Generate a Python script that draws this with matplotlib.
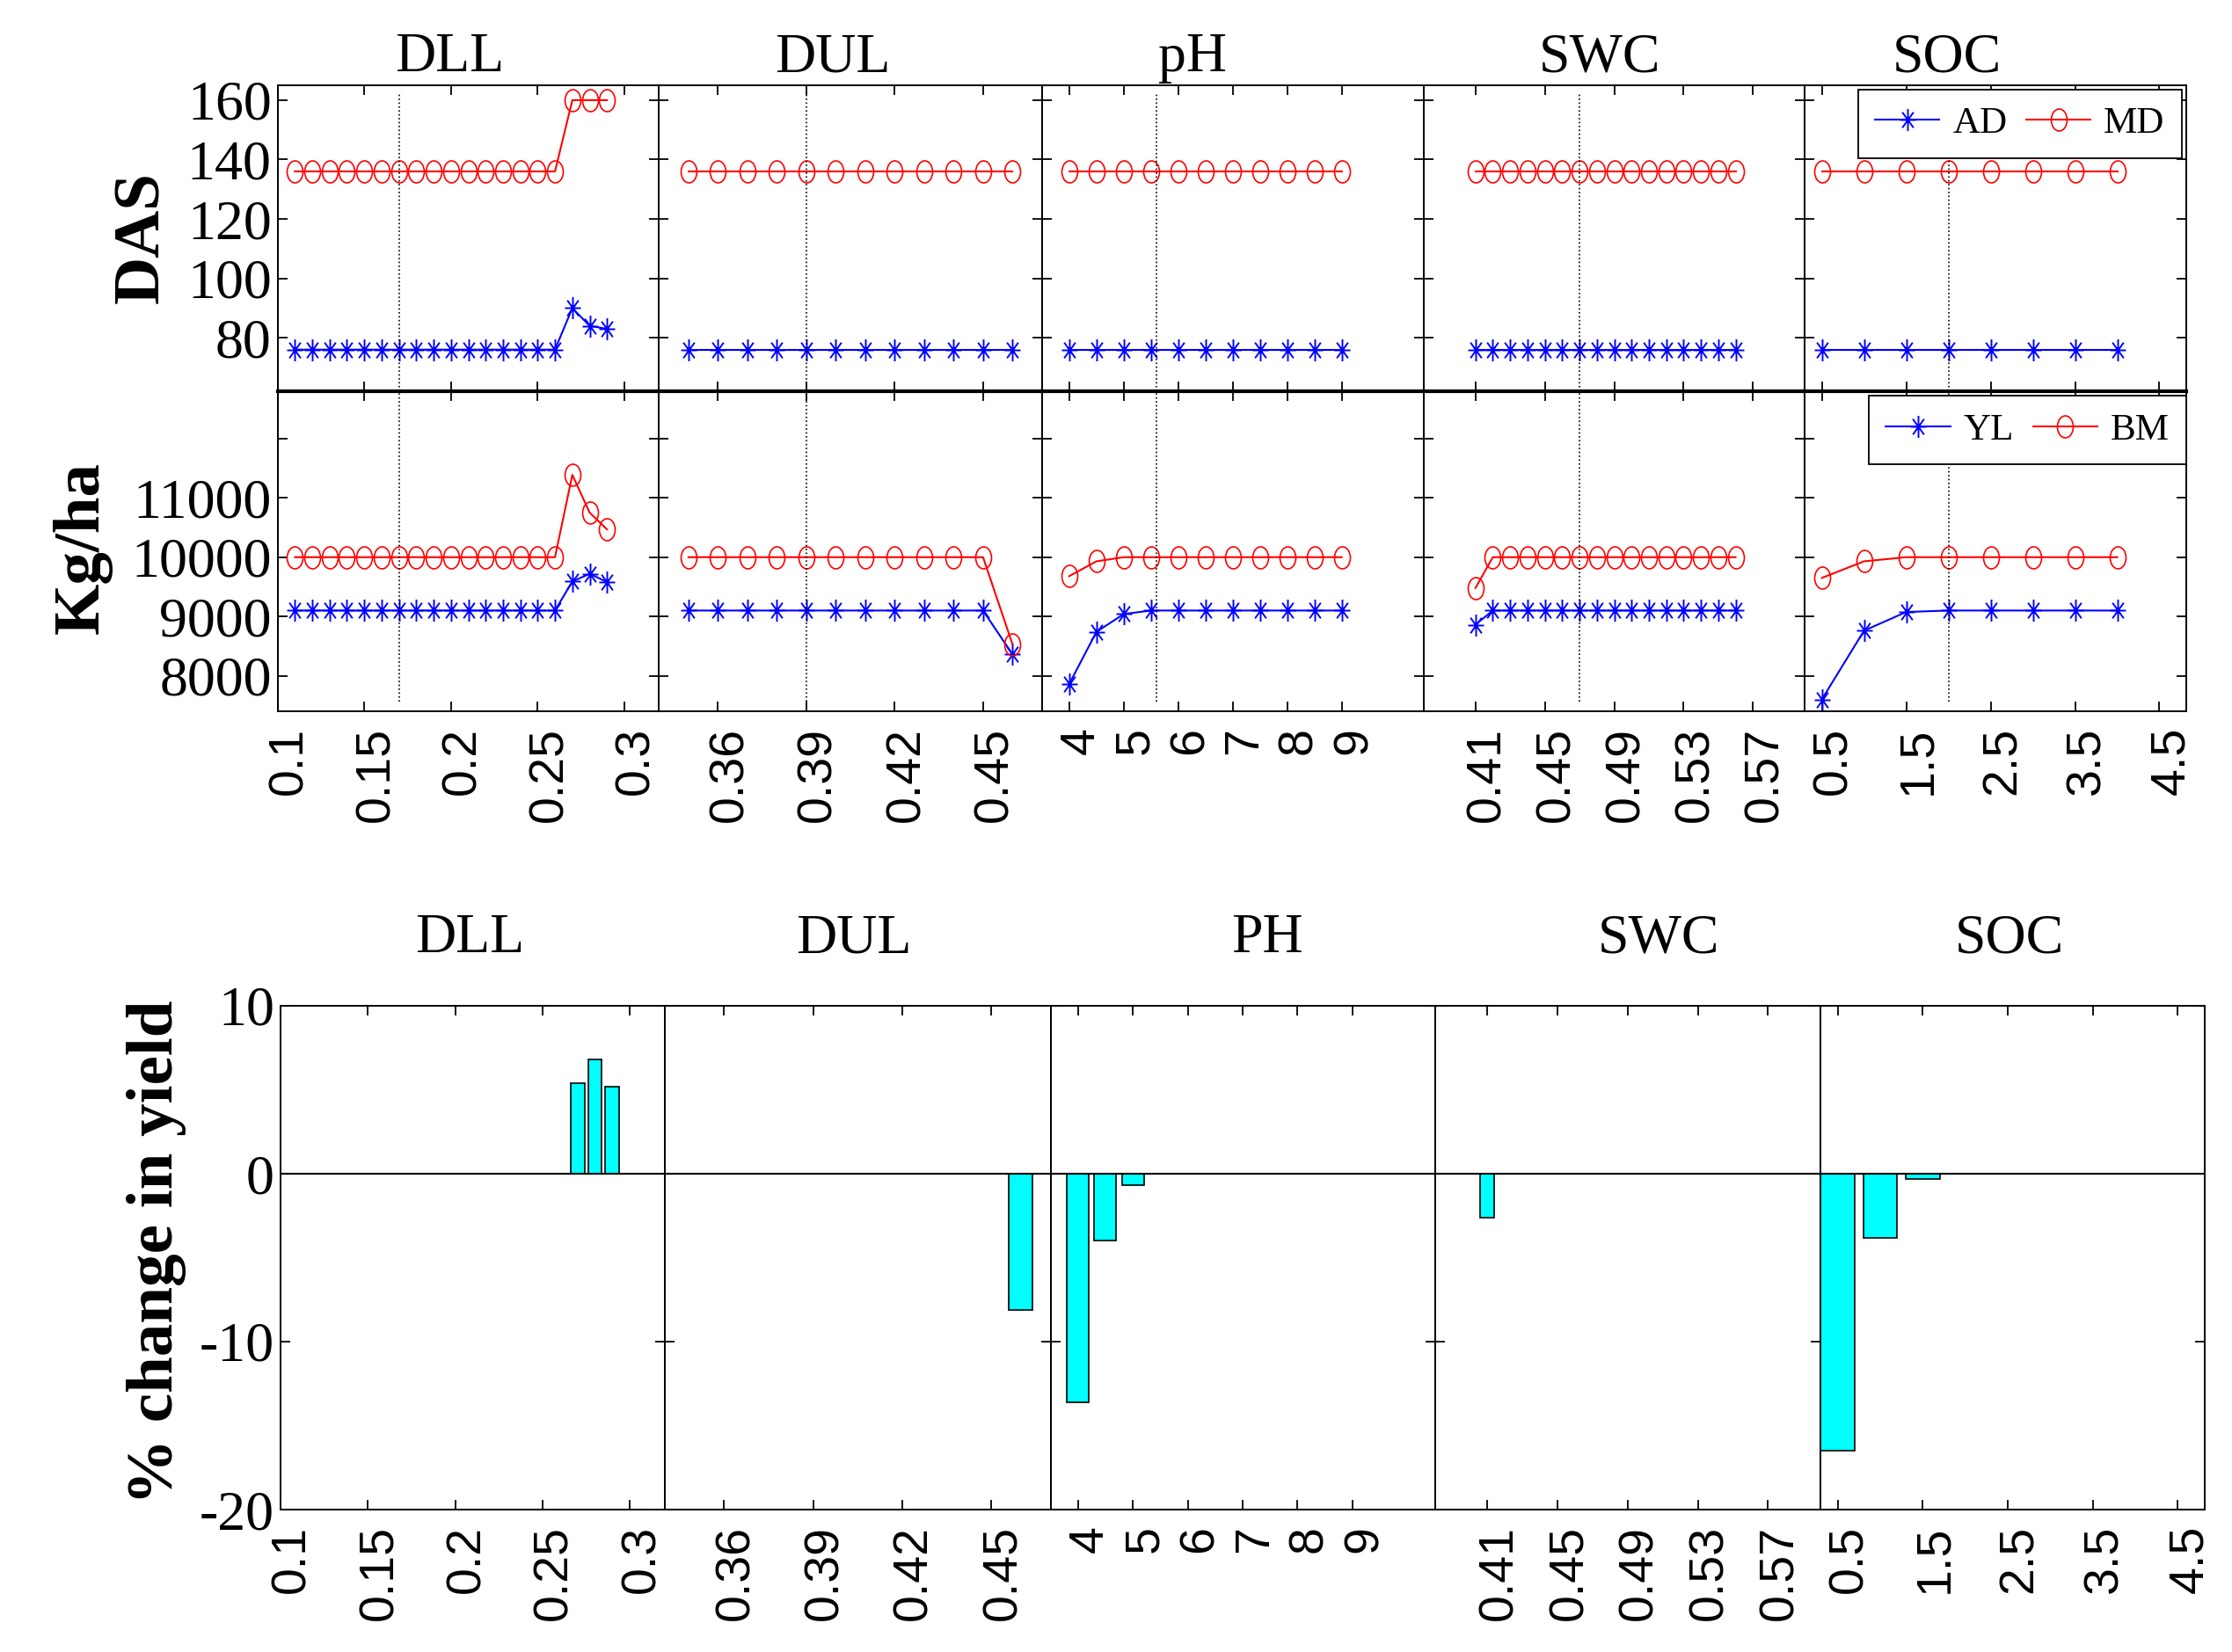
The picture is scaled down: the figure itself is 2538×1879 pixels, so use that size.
import numpy as np
import matplotlib.pyplot as plt
import matplotlib.transforms as mtransforms
from matplotlib.path import Path

plt.rcParams['font.family'] = 'Liberation Serif'

# ---- data: parameter values per panel ----
dll_x = [0.11, 0.12, 0.13, 0.14, 0.15, 0.16, 0.17, 0.18, 0.19, 0.20,
         0.21, 0.22, 0.23, 0.24, 0.25, 0.26, 0.27, 0.28, 0.29]
dul_x = [0.35, 0.36, 0.37, 0.38, 0.39, 0.40, 0.41, 0.42, 0.43, 0.44, 0.45, 0.46]
ph_x = [4.0, 4.5, 5.0, 5.5, 6.0, 6.5, 7.0, 7.5, 8.0, 8.5, 9.0]
swc_x = [0.41, 0.42, 0.43, 0.44, 0.45, 0.46, 0.47, 0.48,
         0.49, 0.50, 0.51, 0.52, 0.53, 0.54, 0.55, 0.56]
soc_x = [0.5, 1.0, 1.5, 2.0, 2.5, 3.0, 3.5, 4.0]

# days after sowing: anthesis (AD) and maturity (MD)
dll_ad = [76, 76, 76, 76, 76, 76, 76, 76, 76, 76, 76, 76, 76, 76, 76, 76, 90, 84, 83]
dll_md = [136, 136, 136, 136, 136, 136, 136, 136, 136, 136, 136, 136, 136, 136, 136, 136, 160, 160, 160]
dul_ad = [76, 76, 76, 76, 76, 76, 76, 76, 76, 76, 76, 76]
dul_md = [136, 136, 136, 136, 136, 136, 136, 136, 136, 136, 136, 136]
ph_ad = [76, 76, 76, 76, 76, 76, 76, 76, 76, 76, 76]
ph_md = [136, 136, 136, 136, 136, 136, 136, 136, 136, 136, 136]
swc_ad = [76, 76, 76, 76, 76, 76, 76, 76, 76, 76, 76, 76, 76, 76, 76, 76]
swc_md = [136, 136, 136, 136, 136, 136, 136, 136, 136, 136, 136, 136, 136, 136, 136, 136]
soc_ad = [76, 76, 76, 76, 76, 76, 76, 76]
soc_md = [136, 136, 136, 136, 136, 136, 136, 136]

# yield (YL) and biomass (BM), kg/ha
dll_yl = [9100, 9100, 9100, 9100, 9100, 9100, 9100, 9100, 9100, 9100,
          9100, 9100, 9100, 9100, 9100, 9100, 9590, 9720, 9580]
dll_bm = [10000, 10000, 10000, 10000, 10000, 10000, 10000, 10000, 10000, 10000,
          10000, 10000, 10000, 10000, 10000, 10000, 11390, 10750, 10470]
dul_yl = [9100, 9100, 9100, 9100, 9100, 9100, 9100, 9100, 9100, 9100, 9100, 8360]
dul_bm = [10000, 10000, 10000, 10000, 10000, 10000, 10000, 10000, 10000, 10000, 10000, 8530]
ph_yl = [7860, 8740, 9040, 9100, 9100, 9100, 9100, 9100, 9100, 9100, 9100]
ph_bm = [9680, 9930, 10000, 10000, 10000, 10000, 10000, 10000, 10000, 10000, 10000]
swc_yl = [8860, 9100, 9100, 9100, 9100, 9100, 9100, 9100,
          9100, 9100, 9100, 9100, 9100, 9100, 9100, 9100]
swc_bm = [9480, 10000, 10000, 10000, 10000, 10000, 10000, 10000,
          10000, 10000, 10000, 10000, 10000, 10000, 10000, 10000]
soc_yl = [7600, 8760, 9075, 9100, 9100, 9100, 9100, 9100]
soc_bm = [9650, 9930, 10000, 10000, 10000, 10000, 10000, 10000]

# % change in yield
dll_bar_x = [0.27, 0.28, 0.29]
dll_bar = [5.4, 6.8, 5.2]
dul_bar_x = [0.46]
dul_bar = [-8.1]
ph_bar_x = [4.0, 4.5, 5.0]
ph_bar = [-13.6, -4.0, -0.7]
swc_bar_x = [0.41]
swc_bar = [-2.6]
soc_bar_x = [0.5, 1.0, 1.5]
soc_bar = [-16.5, -3.8, -0.3]

# baseline value of each parameter (dotted line)
baselines = [0.17, 0.39, 5.6, 0.47, 2.0]

top_titles = ['DLL', 'DUL', 'pH', 'SWC', 'SOC']
bar_titles = ['DLL', 'DUL', 'PH', 'SWC', 'SOC']

xs = [dll_x, dul_x, ph_x, swc_x, soc_x]
ads = [dll_ad, dul_ad, ph_ad, swc_ad, soc_ad]
mds = [dll_md, dul_md, ph_md, swc_md, soc_md]
yls = [dll_yl, dul_yl, ph_yl, swc_yl, soc_yl]
bms = [dll_bm, dul_bm, ph_bm, swc_bm, soc_bm]
bar_xs = [dll_bar_x, dul_bar_x, ph_bar_x, swc_bar_x, soc_bar_x]
bar_vals = [dll_bar, dul_bar, ph_bar, swc_bar, soc_bar]

xlims = [(0.1, 0.32), (0.34, 0.47), (3.5, 10.5), (0.38, 0.60), (0.3, 4.82)]
xticks = [[0.1, 0.15, 0.2, 0.25, 0.3], [0.36, 0.39, 0.42, 0.45],
          [4, 5, 6, 7, 8, 9], [0.41, 0.45, 0.49, 0.53, 0.57],
          [0.5, 1.5, 2.5, 3.5, 4.5]]
bar_widths = [0.008, 0.008, 0.4, 0.008, 0.4]

# ---- markers (slightly tall, like the stretched original) ----
circ = Path.unit_circle()
ELL = Path(circ.vertices * np.array([0.72, 1.0]), circ.codes)
d = 0.7071
ast_v = np.array([[0, -1], [0, 1], [-1, 0], [1, 0],
                  [-d, -d], [d, d], [-d, d], [d, -d]]) * np.array([0.72, 1.0])
ast_c = [Path.MOVETO, Path.LINETO] * 4
AST = Path(ast_v, ast_c)

W, H = 2538, 1879
fig = plt.figure(figsize=(W / 100, H / 100), dpi=100)
# rotated x labels sit a little right of their ticks in the original
label_shift = mtransforms.ScaledTranslation(10 / 72, 0, fig.dpi_scale_trans)


def add_ax(x0, y0, x1, y1):
    return fig.add_axes([x0 / W, 1 - y1 / H, (x1 - x0) / W, (y1 - y0) / H])


def style(ax, lw=1.4):
    for s in ax.spines.values():
        s.set_linewidth(lw)
    ax.tick_params(which='both', direction='in', top=True, right=True,
                   length=8, width=1.3, pad=5)
    ax.tick_params(axis='x', pad=13)


def xlabels(ax, ticks):
    ax.set_xticks(ticks)
    ax.set_xticklabels(['%g' % t for t in ticks], rotation=90,
                       family='Liberation Sans', size=40)
    for lab in ax.get_xticklabels():
        lab.set_transform(lab.get_transform() + label_shift)


def legend(ax, handles, labels, anchor):
    leg = ax.legend(handles, labels, ncol=2, loc='upper right',
                    bbox_to_anchor=anchor, fontsize=31, frameon=True,
                    fancybox=False, edgecolor='k', framealpha=1,
                    handlelength=1.7, handletextpad=0.35, columnspacing=0.5,
                    borderpad=0.45, borderaxespad=0)
    leg.get_frame().set_linewidth(1.3)


top_edges = [315.6, 749.4, 1184.8, 1618.6, 2052.4, 2486.2]
bot_edges = [318.9, 755.9, 1194.5, 1631.5, 2070.2, 2507.2]

for i in range(5):
    # DAS row
    ax1 = add_ax(top_edges[i], 97, top_edges[i + 1], 445)
    l_ad, = ax1.plot(xs[i], ads[i], color='blue', lw=1.5, marker=AST, ms=18,
                     mew=1.4, mfc='none', mec='blue')
    l_md, = ax1.plot(xs[i], mds[i], color='red', lw=1.5, marker=ELL, ms=18,
                     mew=1.2, mfc='none', mec='red')
    ax1.axvline(baselines[i], ymin=0.0, ymax=0.97, color='k', ls=':', lw=1.2)
    ax1.set_xlim(*xlims[i])
    ax1.set_ylim(62, 165)
    ax1.set_xticks(xticks[i])
    ax1.set_xticklabels([])
    ax1.set_yticks([80, 100, 120, 140, 160])
    style(ax1)
    if i == 0:
        ax1.set_yticklabels(['80', '100', '120', '140', '160'], fontsize=46)
    else:
        ax1.set_yticklabels([])
    if i == 4:
        legend(ax1, [l_ad, l_md], ['AD', 'MD'], (0.988, 0.986))

    # Kg/ha row
    ax2 = add_ax(top_edges[i], 445, top_edges[i + 1], 809)
    l_yl, = ax2.plot(xs[i], yls[i], color='blue', lw=1.5, marker=AST, ms=18,
                     mew=1.4, mfc='none', mec='blue')
    l_bm, = ax2.plot(xs[i], bms[i], color='red', lw=1.5, marker=ELL, ms=18,
                     mew=1.2, mfc='none', mec='red')
    ax2.axvline(baselines[i], ymin=0.03, ymax=1.0, color='k', ls=':', lw=1.2)
    ax2.set_xlim(*xlims[i])
    ax2.set_ylim(7400, 12800)
    ax2.set_yticks([8000, 9000, 10000, 11000, 12000])
    style(ax2)
    xlabels(ax2, xticks[i])
    ax2.spines['top'].set_linewidth(3.0)
    if i == 0:
        ax2.set_yticklabels(['8000', '9000', '10000', '11000', ''], fontsize=46)
    else:
        ax2.set_yticklabels([])
    if i == 4:
        legend(ax2, [l_yl, l_bm], ['YL', 'BM'], (1.0, 0.986))

    fig.text([511, 947, 1356, 1819, 2214][i] / W, 1 - 66 / H, top_titles[i],
             ha='center', va='center', fontsize=46)

    # % change in yield row
    ax3 = add_ax(bot_edges[i], 1144, bot_edges[i + 1], 1717)
    ax3.bar(bar_xs[i], bar_vals[i], width=bar_widths[i], color='cyan',
            edgecolor='k', linewidth=1.2, zorder=2)
    ax3.axhline(0, color='k', lw=1.5, zorder=3)
    ax3.set_xlim(*xlims[i])
    ax3.set_ylim(-20, 10)
    ax3.set_yticks([-20, -10, 0, 10])
    style(ax3)
    xlabels(ax3, xticks[i])
    if i == 0:
        ax3.set_yticklabels(['-20', '-10', '0', '10'], fontsize=46)
    else:
        ax3.set_yticklabels([])

    fig.text([534, 971, 1441, 1886, 2285][i] / W, 1 - 1068 / H, bar_titles[i],
             ha='center', va='center', fontsize=46)

fig.text(162 / W, 1 - 270 / H, 'DAS', rotation=90, ha='center', va='center',
         fontsize=54, fontweight='bold')
fig.text(94 / W, 1 - 623 / H, 'Kg/ha', rotation=90, ha='center', va='center',
         fontsize=54, fontweight='bold')
fig.text(178 / W, 1 - 1424 / H, '% change in yield', rotation=90, ha='center',
         va='center', fontsize=54, fontweight='bold')

fig.savefig('out.png', dpi=100, facecolor='white')
